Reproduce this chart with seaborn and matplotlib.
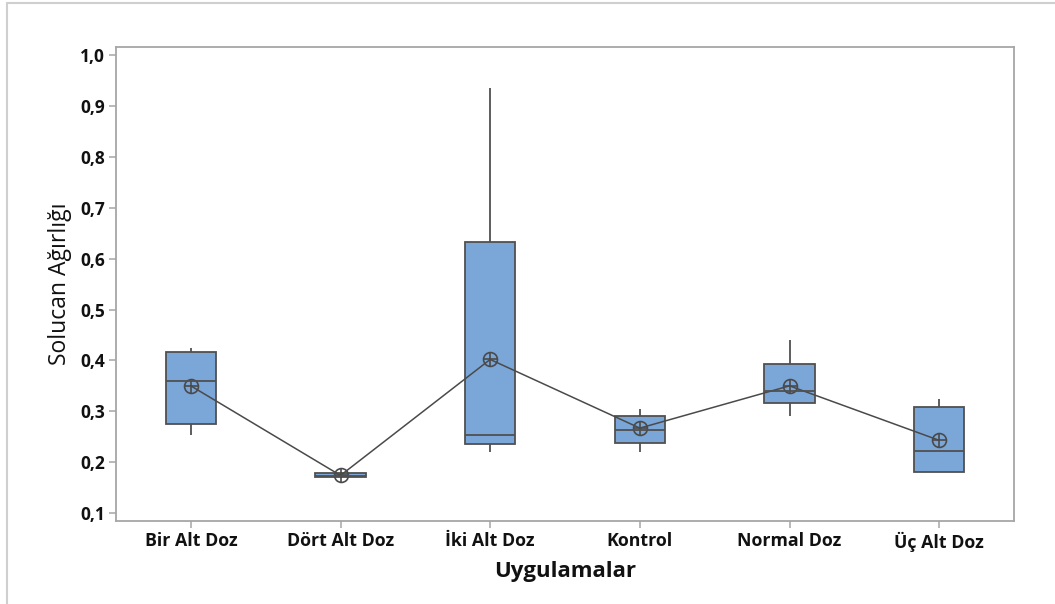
import matplotlib
matplotlib.use("Agg")
import matplotlib.pyplot as plt
import seaborn as sns
import pandas as pd
from matplotlib.lines import Line2D

categories = ["Bir Alt Doz", "Dört Alt Doz", "İki Alt Doz", "Kontrol", "Normal Doz", "Üç Alt Doz"]

bir_alt_doz = [0.254, 0.270, 0.275, 0.330, 0.359, 0.400, 0.417, 0.420, 0.425]
dort_alt_doz = [0.169, 0.170, 0.170, 0.172, 0.173, 0.174, 0.179, 0.179, 0.180]
iki_alt_doz = [0.220, 0.220, 0.235, 0.235, 0.253, 0.253, 0.633, 0.633, 0.935]
kontrol = [0.220, 0.236, 0.238, 0.262, 0.263, 0.289, 0.290, 0.300, 0.305]
normal_doz = [0.291, 0.300, 0.316, 0.330, 0.340, 0.345, 0.393, 0.394, 0.441]
uc_alt_doz = [0.180, 0.180, 0.180, 0.200, 0.223, 0.281, 0.309, 0.310, 0.324]

y_ticks = [0.1, 0.2, 0.3, 0.4, 0.5, 0.6, 0.7, 0.8, 0.9, 1.0]
y_tick_labels = ["0,1", "0,2", "0,3", "0,4", "0,5", "0,6", "0,7", "0,8", "0,9", "1,0"]

groups = [bir_alt_doz, dort_alt_doz, iki_alt_doz, kontrol, normal_doz, uc_alt_doz]
rows = []
for cat, vals in zip(categories, groups):
    for v in vals:
        rows.append({"Uygulamalar": cat, "Solucan Ağırlığı": v})
df = pd.DataFrame(rows)

sns.set_theme(style="white")
plt.rcParams["font.family"] = ["Open Sans", "DejaVu Sans"]

fig = plt.figure(figsize=(10.55, 6.04), dpi=100)
ax = fig.add_axes([116 / 1055, 1 - 521 / 604, (1014 - 116) / 1055, (521 - 47) / 604])

box_color = "#7BA6D8"
edge = "#505050"

sns.boxplot(data=df, x="Uygulamalar", y="Solucan Ağırlığı", order=categories,
            color=box_color, width=0.335, whis=(0, 100), linecolor=edge,
            linewidth=1.3, fliersize=0, showcaps=False, saturation=1, ax=ax)

sns.pointplot(data=df, x="Uygulamalar", y="Solucan Ağırlığı", order=categories,
              estimator="mean", errorbar=None, color="#4a4a4a", markers="o",
              markersize=10, markerfacecolor="none", markeredgewidth=1.2,
              linewidth=1.1, ax=ax)
sns.pointplot(data=df, x="Uygulamalar", y="Solucan Ağırlığı", order=categories,
              estimator="mean", errorbar=None, color="#4a4a4a", markers="+",
              linestyles="none", markersize=10, markeredgewidth=1.2, ax=ax)

ax.set_xlim(-0.5, 5.5)
ax.set_ylim(0.0845, 1.0157)
ax.set_yticks(y_ticks)
ax.set_yticklabels(y_tick_labels)

for s in ax.spines.values():
    s.set_color("#A6A6A6")
    s.set_linewidth(1.3)

ax.tick_params(axis="both", which="major", direction="out", length=5, width=1.1,
               color="#A6A6A6", labelcolor="#111111", pad=3, left=True, bottom=True)
ax.tick_params(axis="x", labelsize=12.8)
ax.tick_params(axis="y", labelsize=12.5)
for lab in ax.get_xticklabels() + ax.get_yticklabels():
    lab.set_fontweight("bold")

ax.set_xlabel("Uygulamalar", fontsize=16, fontweight="bold", color="#111111", labelpad=6)
ax.set_ylabel("Solucan Ağırlığı", fontsize=16.5, color="#111111", labelpad=6)

# outer frame of the graph window
fig.add_artist(Line2D([7 / 1055, 7 / 1055], [0, 1 - 3 / 604], transform=fig.transFigure,
                      color="#CFCFCF", linewidth=1.5))
fig.add_artist(Line2D([7 / 1055, 1], [1 - 3 / 604, 1 - 3 / 604], transform=fig.transFigure,
                      color="#CFCFCF", linewidth=1.5))

fig.savefig("out.png", dpi=100)
